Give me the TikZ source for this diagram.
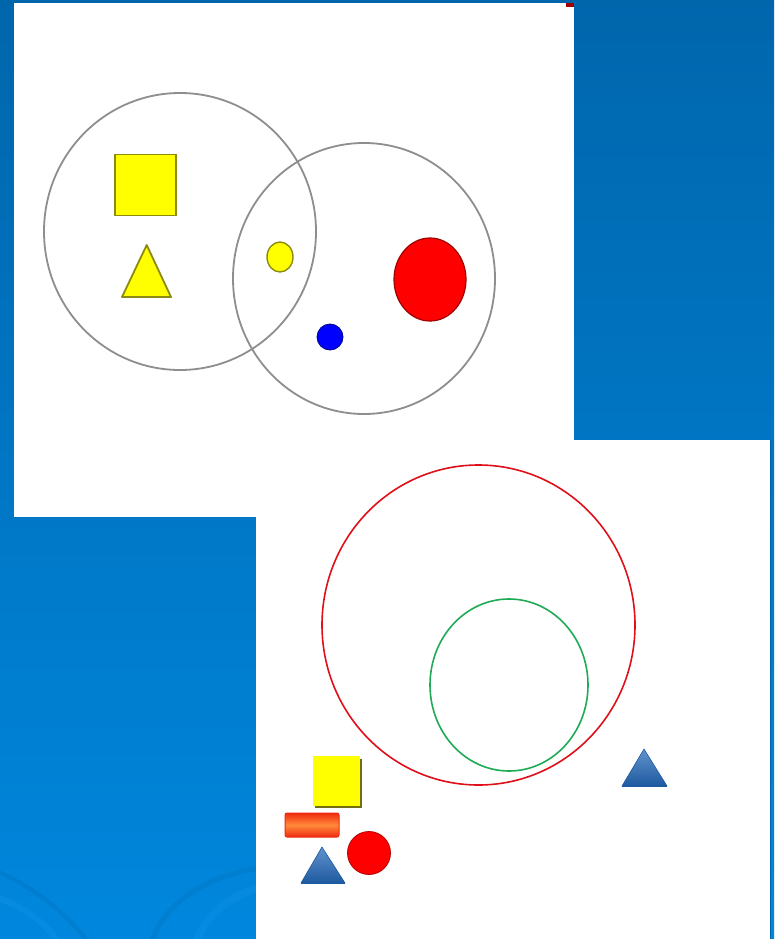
\documentclass[tikz,border=0pt]{standalone}
\usetikzlibrary{shapes.geometric}
\definecolor{bgtop}{HTML}{0066AC}
\definecolor{bgbot}{HTML}{0087DD}
\definecolor{swirl}{HTML}{0A8FE6}
\definecolor{swirlD}{HTML}{0079C8}
\definecolor{ringgray}{HTML}{8E8E8E}
\definecolor{yel}{HTML}{FFFF00}
\definecolor{olive}{HTML}{8C8A10}
\definecolor{redf}{HTML}{FF0000}
\definecolor{redd}{HTML}{A00000}
\definecolor{bluedot}{HTML}{0000FF}
\definecolor{bluedd}{HTML}{00008C}
\definecolor{ringred}{HTML}{E0101A}
\definecolor{ringgreen}{HTML}{1FAA55}
\definecolor{triblue}{HTML}{3A78C0}
\definecolor{tribluedark}{HTML}{1E5AA0}
\definecolor{orng}{HTML}{FF8A3A}
\definecolor{orngedge}{HTML}{F02A10}
\tikzset{
  ring/.style={draw=ringgray, line width=1.8pt},
  yshape/.style={fill=yel, draw=olive, line width=1.8pt},
  bluetri/.style={top color=triblue!80!white, bottom color=tribluedark, draw=tribluedark, line width=0.6pt, line join=round},
}
\begin{document}
\begin{tikzpicture}[x=1pt,y=-1pt]
\useasboundingbox (0,0) rectangle (774,939);
% background
\shade[top color=bgtop, bottom color=bgbot] (0,0) rectangle (774,939);
\begin{scope}
\clip (0,0) rectangle (774,939);
\draw[swirlD, line width=4pt, opacity=0.6] (-10,868) .. controls (30,885) and (65,910) .. (90,945);
\draw[swirl, line width=6pt, opacity=0.6] (-10,895) .. controls (20,905) and (45,920) .. (60,945);
\draw[swirlD, line width=5pt, opacity=0.5] (150,945) .. controls (165,900) and (210,875) .. (260,868);
\draw[swirl, line width=8pt, opacity=0.5] (195,945) .. controls (205,915) and (230,895) .. (260,888);
\end{scope}
% top panel
\fill[white] (14,3) rectangle (574,517);
\fill[redd] (566,3) rectangle (574,7);
% bottom panel
\fill[white] (256,440) rectangle (770,939);
\draw[bgtop, line width=1pt] (770.5,440) -- (770.5,939);

% top diagram
\draw[ring] (180,231.5) ellipse (136 and 138.5);
\draw[ring] (364,278.5) ellipse (131 and 135.5);
\node[draw=olive, fill=yel, line width=1.8pt, minimum width=61pt, minimum height=61pt, inner sep=0pt] (sq1) at (145.5,185) {};
\draw[yshape, line join=round] (146.7,245) -- (171,297) -- (122,297) -- cycle;
\draw[yshape, line width=1.4pt] (280,257) ellipse (13 and 15);
\draw[fill=redf, draw=redd, line width=1.2pt] (430,279.5) ellipse (36 and 41.5);
\draw[fill=bluedot, draw=bluedd, line width=0.8pt] (330,337) circle (13);

% bottom diagram
\draw[ringred, line width=1.6pt] (478.5,625) ellipse (156.5 and 160);
\draw[ringgreen, line width=1.6pt] (509,685) ellipse (79 and 86);
\fill[olive!80!black] (315,759) rectangle (362,808);
\fill[yel] (313,756) rectangle (360,806);
\shade[top color=orngedge, bottom color=orngedge, middle color=orng, rounded corners=2pt] (285,813) rectangle (339,837);
\draw[orngedge, line width=1pt, rounded corners=2pt] (285,813) rectangle (339,837);
\draw[fill=redf, draw=redd!80!red, line width=0.8pt] (369,853) circle (21.5);
\shade[bluetri] (322,847) -- (345,883) -- (301,883) -- cycle;
\draw[tribluedark, line width=1.2pt] (301,883) -- (345,883);
\shade[bluetri] (644,749) -- (667,786) -- (622,786) -- cycle;
\draw[tribluedark, line width=1.2pt] (622,786) -- (667,786);
\end{tikzpicture}
\end{document}
